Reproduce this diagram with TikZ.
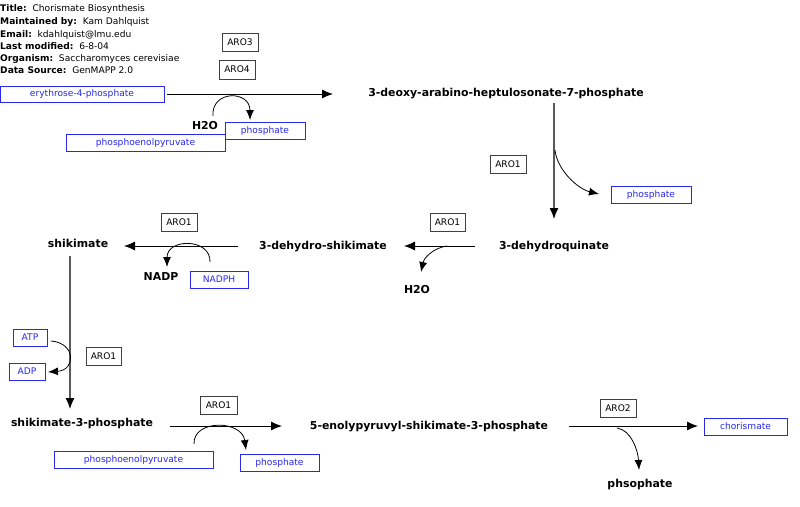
\documentclass[tikz,border=0pt]{standalone}
\usepackage{fontspec}
\setmainfont{DejaVu Sans}
\usetikzlibrary{arrows.meta}
\definecolor{metblue}{RGB}{40,40,240}
\tikzset{
  met/.style={draw=metblue,text=metblue,line width=0.9pt,inner sep=0pt,font=\fontsize{9.1}{10}\selectfont},
  enz/.style={draw=black!75,text=black,line width=0.8pt,inner sep=0pt,font=\fontsize{9.1}{10}\selectfont},
  lbl/.style={inner sep=0pt,font=\bfseries\fontsize{10.9}{12}\selectfont},
  hdr/.style={inner sep=0pt,anchor=west,font=\fontsize{9.1}{10}\selectfont},
  mainarrow/.style={line width=0.9pt,-{Latex[length=11pt,width=9pt]}},
  vertarrow/.style={line width=1.3pt,draw=black!65,-{Latex[length=11pt,width=9pt,color=black,fill=black]}},
  sidearrow/.style={line width=0.8pt,-{Latex[length=10pt,width=8pt]}}
}
\begin{document}
\begin{tikzpicture}[x=1pt,y=-1pt]
\useasboundingbox (0,0) rectangle (800,506);
% header
\node[hdr] (h1) at (0,9) {\textbf{Title:}\ \ Chorismate Biosynthesis};
\node[hdr] (h2) at (0,22) {\textbf{Maintained by:}\ \ Kam Dahlquist};
\node[hdr] (h3) at (0,35) {\textbf{Email:}\ \ kdahlquist@lmu.edu};
\node[hdr] (h4) at (0,46) {\textbf{Last modified:}\ \ 6-8-04};
\node[hdr] (h5) at (0,59) {\textbf{Organism:}\ \ Saccharomyces cerevisiae};
\node[hdr] (h6) at (0,70) {\textbf{Data Source:}\ \ GenMAPP 2.0};
% enzymes
\node[enz,minimum width=36pt,minimum height=18pt] (aro3) at (240,42) {ARO3};
\node[enz,minimum width=36pt,minimum height=19pt] (aro4) at (237,69.5) {ARO4};
\node[enz,minimum width=36pt,minimum height=18pt] (aro1a) at (508,164) {ARO1};
\node[enz,minimum width=35pt,minimum height=18pt] (aro1b) at (447.5,222) {ARO1};
\node[enz,minimum width=36pt,minimum height=18pt] (aro1c) at (179,222) {ARO1};
\node[enz,minimum width=35pt,minimum height=18pt] (aro1d) at (103.5,356) {ARO1};
\node[enz,minimum width=37pt,minimum height=18pt] (aro1e) at (218.5,405) {ARO1};
\node[enz,minimum width=36pt,minimum height=18pt] (aro2) at (618,408) {ARO2};
% metabolites in boxes
\node[met,minimum width=164pt,minimum height=16pt] (ery) at (82,94) {erythrose-4-phosphate};
\node[met,minimum width=159pt,minimum height=17pt] (pep1) at (145.5,142.5) {phosphoenolpyruvate};
\node[met,minimum width=80pt,minimum height=17pt,fill=white] (pho1) at (265,130.5) {phosphate};
\node[met,minimum width=80pt,minimum height=17pt] (pho2) at (651,194.5) {phosphate};
\node[met,minimum width=58pt,minimum height=17pt] (nadph) at (219,279.5) {NADPH};
\node[met,minimum width=34pt,minimum height=17pt] (atp) at (30,337.5) {ATP};
\node[met,minimum width=36pt,minimum height=17pt] (adp) at (27,371.5) {ADP};
\node[met,minimum width=159pt,minimum height=17pt] (pep2) at (133.5,459.5) {phosphoenolpyruvate};
\node[met,minimum width=79pt,minimum height=17pt] (pho3) at (279.5,462.5) {phosphate};
\node[met,minimum width=83pt,minimum height=17pt] (chor) at (745.5,426.5) {chorismate};
% bold labels
\node[lbl] (dahp) at (506,94) {3-deoxy-arabino-heptulosonate-7-phosphate};
\node[lbl] (dhq) at (554,246.5) {3-dehydroquinate};
\node[lbl] (dhs) at (323,247) {3-dehydro-shikimate};
\node[lbl] (shik) at (78,243.5) {shikimate};
\node[lbl] (s3p) at (82,423) {shikimate-3-phosphate};
\node[lbl] (epsp) at (429,426.5) {5-enolypyruvyl-shikimate-3-phosphate};
\node[lbl] (h2oa) at (205,125.5) {H2O};
\node[lbl] (h2ob) at (417,289.5) {H2O};
\node[lbl] (nadp) at (161,277) {NADP};
\node[lbl] (phso) at (640,484.5) {phsophate};
% arrow end coordinates
\coordinate (r1s) at (167,94);   \coordinate (r1e) at (333,94);
\coordinate (r2s) at (554,103);  \coordinate (r2e) at (554,219);
\coordinate (r3s) at (475,246);  \coordinate (r3e) at (404,246);
\coordinate (r4s) at (238,246);  \coordinate (r4e) at (124,246);
\coordinate (r5s) at (70,256);   \coordinate (r5e) at (70,409);
\coordinate (r6s) at (170,426);  \coordinate (r6e) at (282,426);
\coordinate (r7s) at (569,426);  \coordinate (r7e) at (698,426);
\coordinate (c1s) at (213,116);  \coordinate (c1e) at (250,120);
\coordinate (c2s) at (555,150);  \coordinate (c2e) at (599,194);
\coordinate (c3s) at (447,246);  \coordinate (c3e) at (421,272);
\coordinate (c4s) at (210,262);  \coordinate (c4e) at (167,267);
\coordinate (c5s) at (51,341);   \coordinate (c5e) at (48,372);
\coordinate (c6s) at (194,444);  \coordinate (c6e) at (246,450);
\coordinate (c7s) at (617,428);  \coordinate (c7e) at (639,470);
% main reactions
\draw[mainarrow] (r1s) -- (r1e);
\draw[vertarrow] (r2s) -- (r2e);
\draw[mainarrow] (r3s) -- (r3e);
\draw[mainarrow] (r4s) -- (r4e);
\draw[vertarrow] (r5s) -- (r5e);
\draw[mainarrow] (r6s) -- (r6e);
\draw[mainarrow] (r7s) -- (r7e);
% side reactions
\draw[sidearrow] (c1s) .. controls (211,90) and (250,90) .. (c1e);
\draw[sidearrow] (c2s) .. controls (557,170) and (578,189) .. (c2e);
\draw[sidearrow] (c3s) .. controls (433,248) and (424,258) .. (c3e);
\draw[sidearrow] (c4s) .. controls (211,238) and (167,238) .. (c4e);
\draw[sidearrow] (c5s) .. controls (76,343) and (76,370) .. (c5e);
\draw[sidearrow] (c6s) .. controls (193,419) and (242,420) .. (c6e);
\draw[sidearrow] (c7s) .. controls (631,430) and (638,450) .. (c7e);
\end{tikzpicture}
\end{document}
